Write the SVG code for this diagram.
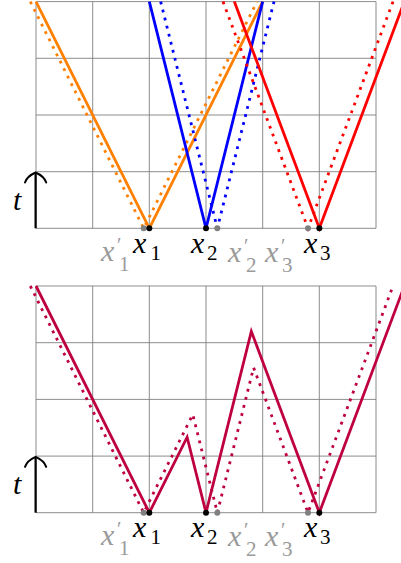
<svg xmlns="http://www.w3.org/2000/svg" width="401" height="563" viewBox="0 0 401 563">
<style>
.grid{stroke:#808080;stroke-width:0.9;fill:none}
.ln{fill:none;stroke-width:2.8;stroke-linejoin:miter}
.dt{fill:none;stroke-width:2.8;stroke-dasharray:2.8 5.5}
.or{stroke:#ff8000}.bl{stroke:#0000ff}.rd{stroke:#ff0000}.pu{stroke:#bf0040}
.ax{fill:none;stroke:#000;stroke-width:2.2}
.ah{fill:none;stroke:#000;stroke-width:2;stroke-linecap:round}
</style>
<defs>
<g id="grid">
<path class="grid" d="M36,1.6H376M36,58.3H376M36,115H376M36,171.7H376M36,228.3H376M36,1.6V228.3M92.7,1.6V228.3M149.3,1.6V228.3M206,1.6V228.3M262.7,1.6V228.3M319.3,1.6V228.3M376,1.6V228.3"/>
</g>
<g id="axis">
<path class="ax" d="M35.6,228.3V173.5"/>
<path class="ah" d="M25,182.5C26.5,178 31,174.5 35.6,172.5C40.2,174.5 44.7,178 46.2,182.5"/>
</g>
<g id="pts">
<circle cx="143.67" cy="228.3" r="3" fill="#808080"/>
<circle cx="217.33" cy="228.3" r="3" fill="#808080"/>
<circle cx="308" cy="228.3" r="3" fill="#808080"/>
<circle cx="149.33" cy="228.3" r="3" fill="#000"/>
<circle cx="206" cy="228.3" r="3" fill="#000"/>
<circle cx="319.33" cy="228.3" r="3" fill="#000"/>
</g>
<g id="labels" font-family="Liberation Serif, DejaVu Serif, serif" font-style="italic" font-size="30">
<text fill="#000" x="13" y="210">t</text>
<text fill="#9a9a9a" x="101" y="261">x<tspan font-style="normal" font-size="20" x="117" y="252">′</tspan><tspan font-style="normal" font-size="21" x="119" y="271">1</tspan></text>
<text fill="#000" x="133" y="253">x<tspan font-style="normal" font-size="21" x="150.5" y="260">1</tspan></text>
<text fill="#000" x="191" y="253">x<tspan font-style="normal" font-size="21" x="207" y="260">2</tspan></text>
<text fill="#9a9a9a" x="228" y="262">x<tspan font-style="normal" font-size="20" x="244" y="253">′</tspan><tspan font-style="normal" font-size="21" x="246" y="272">2</tspan></text>
<text fill="#9a9a9a" x="265" y="262">x<tspan font-style="normal" font-size="20" x="281" y="253">′</tspan><tspan font-style="normal" font-size="21" x="282" y="272">3</tspan></text>
<text fill="#000" x="304" y="253">x<tspan font-style="normal" font-size="21" x="320" y="260">3</tspan></text>
</g>
</defs>
<g id="top">
<use href="#grid"/>
<g id="connectors-top">
<path class="dt or" d="M30.33,1.6L143.67,228.3L257,1.6"/>
<path class="ln or" d="M36,1.6L149.33,228.3L262.67,1.6"/>
<path class="dt bl" d="M160.67,1.6L217.33,228.3L274,1.6"/>
<path class="ln bl" d="M149.33,1.6L206,228.3L262.67,1.6"/>
<path class="dt rd" d="M223,1.6L308,228.3L393,1.6"/>
<path class="ln rd" d="M234.33,1.6L319.33,228.3L404.33,1.6"/>
</g>
<use href="#axis"/>
<use href="#pts"/>
<use href="#labels"/>
</g>
<g id="bottom" transform="translate(0,284.4)">
<use href="#grid"/>
<g id="connectors-bottom">
<path class="dt pu" d="M30.33,1.6L143.67,228.3L192.78,130.08L217.33,228.3L253.6,83.23L308,228.3L393,1.6"/>
<path class="ln pu" d="M36,1.6L149.33,228.3L187.11,152.74L206,228.3L251.33,46.97L319.33,228.3L404.33,1.6"/>
</g>
<use href="#axis"/>
<use href="#pts"/>
<use href="#labels"/>
</g>
</svg>
